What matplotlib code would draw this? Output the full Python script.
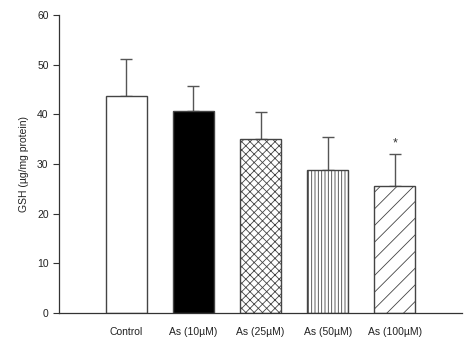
import numpy as np
import matplotlib
matplotlib.use("Agg")
from matplotlib import pyplot as plt

plt.rcParams['font.family'] = ['Liberation Sans', 'DejaVu Sans']
plt.rcParams['hatch.linewidth'] = 0.6

groups = ['Control', 'As (10µM)', 'As (25µM)', 'As (50µM)', 'As (100µM)']
gsh = [43.7, 40.6, 35.1, 28.8, 25.6]
err = [7.5, 5.1, 5.4, 6.7, 6.5]
fills = ['white', 'black', 'white', 'white', 'white']
hatches = ['', '', 'xxxx', '|||||', '//']
marks = ['', '', '', '', '*']

fig = plt.figure(figsize=(4.74, 3.48), dpi=100)
ax = fig.add_axes([0.1245, 0.1006, 0.8505, 0.8564])

x = np.arange(len(groups))
edge = '#444444'
for i in range(len(groups)):
    ax.bar(x[i], gsh[i], width=0.61, color=fills[i], edgecolor=edge,
           hatch=hatches[i], linewidth=1.0, zorder=2)
ax.errorbar(x, gsh, yerr=[np.zeros(len(err)), err], fmt='none',
            ecolor='#555555', elinewidth=1.0, capsize=4, capthick=1.0, zorder=1)
for i in range(len(groups)):
    if marks[i]:
        ax.text(x[i], gsh[i] + err[i] + 0.8, marks[i], ha='center', va='bottom',
                fontsize=9, color='#333333')

ax.set_xlim(-1, 5)
ax.set_ylim(0, 60)
ax.set_yticks(range(0, 61, 10))
ax.set_xticks(x)
ax.set_xticklabels(groups, fontsize=7.5, color='#222222')
ax.tick_params(axis='x', length=0, pad=10)
ax.tick_params(axis='y', labelsize=7.5, length=4, width=0.8, colors='#333333', labelcolor='#222222')
for s in ['top', 'right']:
    ax.spines[s].set_visible(False)
for s in ['left', 'bottom']:
    ax.spines[s].set_color('#333333')
    ax.spines[s].set_linewidth(0.9)
ax.set_ylabel('GSH (µg/mg protein)', fontsize=7.5, color='#222222', labelpad=6)

fig.savefig('out.png', dpi=100)
